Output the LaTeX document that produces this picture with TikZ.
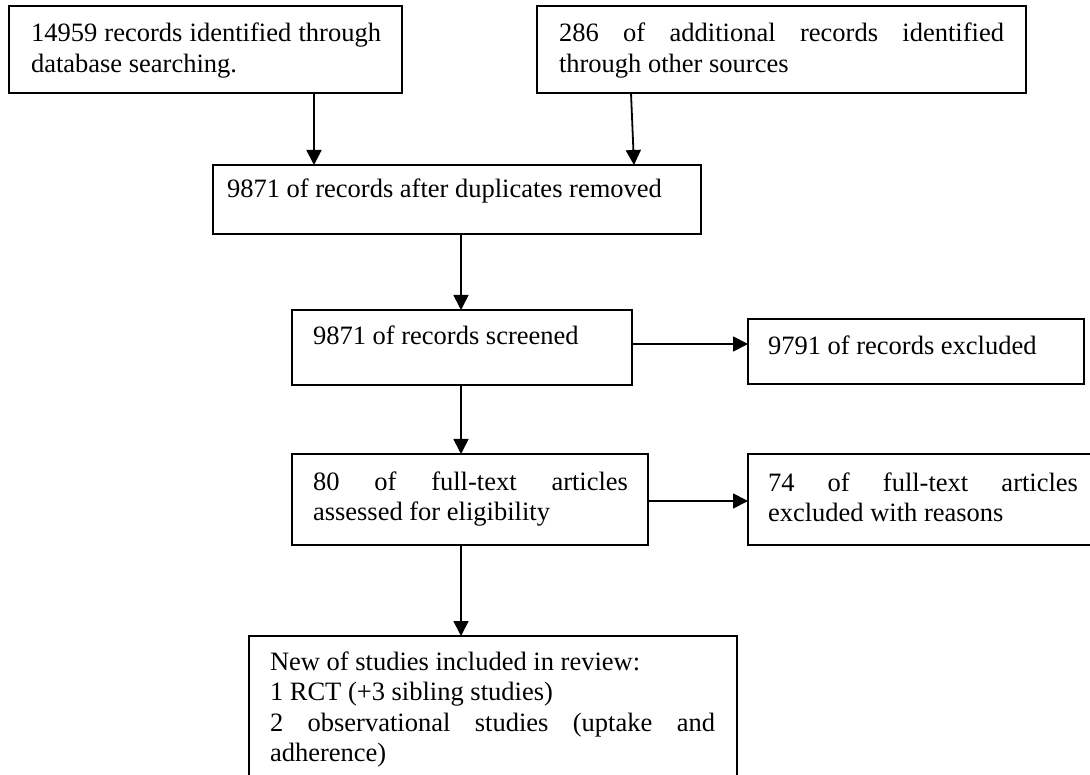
\documentclass[tikz,border=0pt]{standalone}
\usepackage{fontspec}
\setmainfont{Liberation Serif}
\usetikzlibrary{arrows.meta}
\begin{document}
\begin{tikzpicture}[x=1pt,y=-1pt,
  box/.style={draw=black, line width=1.8pt, inner sep=0pt, outer sep=0pt, anchor=north west},
  txt/.style={inner sep=0pt, outer sep=0pt, anchor=north west, align=left,
              font=\fontsize{26.5}{30.5}\selectfont},
  arr/.style={draw=black, line width=1.8pt, -{Triangle[length=15pt,width=15pt]}}]
\useasboundingbox (0,0) rectangle (1090,775);
\fill[white] (0,0) rectangle (1090,775);
\clip (0,0) rectangle (1090,775);
% boxes
\node[box, minimum width=393pt, minimum height=87pt] (b1) at (9,6) {};
\node[box, minimum width=489pt, minimum height=87pt] (b2) at (537,6) {};
\node[box, minimum width=488pt, minimum height=69pt] (b3) at (213,165) {};
\node[box, minimum width=340pt, minimum height=75pt] (b4) at (292,310) {};
\node[box, minimum width=336pt, minimum height=65pt] (b5) at (748,319) {};
\node[box, minimum width=356pt, minimum height=91pt] (b6) at (292,454) {};
\node[box, minimum width=362pt, minimum height=91pt] (b7) at (748,454) {};
\node[box, minimum width=488pt, minimum height=170pt] (b8) at (249,636) {};
% texts
\node[txt] (t1) at (31,20.65) {\strut\makebox[350pt][s]{14959 records identified through}\\database searching.};
\node[txt] (t2) at (559,20.65) {\strut\makebox[445pt][s]{286 of additional records identified}\\through other sources};
\node[txt] (t3) at (227,176.65) {\strut 9871 of records after duplicates removed};
\node[txt] (t4) at (313,323.65) {\strut 9871 of records screened};
\node[txt] (t5) at (768,333.65) {\strut 9791 of records excluded};
\node[txt] (t6) at (313,468.65) {\strut\makebox[315pt][s]{80 of full-text articles}\\assessed for eligibility};
\node[txt] (t7) at (768,469.65) {\strut\makebox[310pt][s]{74 of full-text articles}\\excluded with reasons};
\node[txt] (t8) at (270,648.65) {\strut New of studies included in review:\\1 RCT (+3 sibling studies)\\\makebox[445pt][s]{2 observational studies (uptake and}\\adherence)};
% connectors
\draw[arr] ([xshift=305pt]b1.south west) -- ([xshift=101pt]b3.north west);
\draw[arr] ([xshift=94pt]b2.south west) -- ([xshift=421pt]b3.north west);
\draw[arr] ([xshift=248pt]b3.south west) -- ([xshift=169pt]b4.north west);
\draw[arr] ([yshift=3.5pt]b4.east) -- ([yshift=3.5pt]b4.east -| b5.west);
\draw[arr] ([xshift=169pt]b4.south west) -- ([xshift=169pt]b6.north west);
\draw[arr] ([yshift=-1.5pt]b6.east) -- ([yshift=-1.5pt]b6.east -| b7.west);
\draw[arr] ([xshift=169pt]b6.south west) -- ([xshift=212pt]b8.north west);
\end{tikzpicture}
\end{document}
